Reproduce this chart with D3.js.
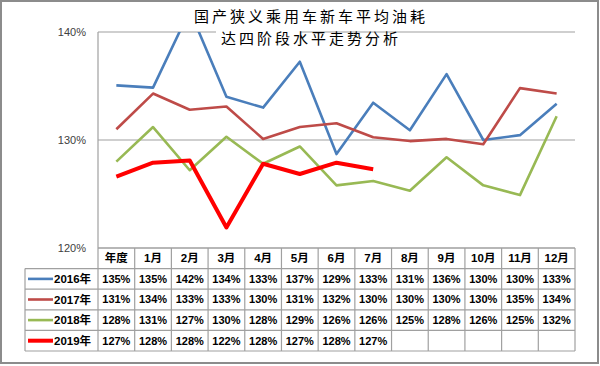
<!DOCTYPE html>
<html>
<head>
<meta charset="utf-8">
<script src="https://cdn.jsdelivr.net/npm/d3@7"></script>
<style>
  body { margin: 0; background: #fff; }
  #viz { width: 600px; height: 366px; }
</style>
</head>
<body>
<div id="viz"></div>
<script>
// Categories of the x axis (year average + months).
var categories = ["年度", "1月", "2月", "3月", "4月", "5月", "6月", "7月", "8月", "9月", "10月", "11月", "12月"];

// Series names (table row headers).
var seriesNames = ["2016年", "2017年", "2018年", "2019年"];

// Values (percent), one array per year.
var values2016 = [135.06, 134.85, 142.0, 134.0, 133.0, 137.25, 128.7, 133.45, 130.9, 136.1, 130.0, 130.45, 133.35];
var values2017 = [131.0, 134.3, 132.8, 133.1, 130.1, 131.2, 131.55, 130.25, 129.9, 130.1, 129.6, 134.8, 134.3];
var values2018 = [128.0, 131.2, 127.2, 130.3, 127.8, 129.4, 125.8, 126.2, 125.3, 128.4, 125.8, 124.9, 132.2];
var values2019 = [126.6, 127.9, 128.1, 121.9, 127.8, 126.85, 127.9, 127.3];

// Y axis ticks.
var yTicks = [120, 130, 140];

var titleLines = ["国产狭义乘用车新车平均油耗", "达四阶段水平走势分析"];

var allValues = [values2016, values2017, values2018, values2019];
var colors = ["#4a7ebb", "#be4b48", "#98b954", "#ff0000"];
var widths = [2.6, 2.6, 2.6, 4];

var W = 600, H = 366;
var plot = { left: 98, right: 575, top: 32, bottom: 248 };
var rowH = 20.6;
var headCol = 25;   // left edge of the row header column
var sansFont = "'Liberation Sans', 'Noto Sans CJK SC', sans-serif";

var svg = d3.select("#viz")
  .append("svg")
    .attr("width", W)
    .attr("height", H);

// outer frame of the picture
svg.append("rect")
  .attr("x", 1).attr("y", 1)
  .attr("width", W - 3).attr("height", H - 4)
  .attr("fill", "#fff")
  .attr("stroke", "#8c8c8c")
  .attr("stroke-width", 2);

// scales
var x = d3.scaleBand()
  .domain(categories)
  .range([plot.left, plot.right]);

var y = d3.scaleLinear()
  .domain([120, 140])
  .range([plot.bottom, plot.top]);

// gridlines (the 120% one is the table top)
svg.append("g")
  .selectAll("line")
  .data(yTicks)
  .join("line")
    .attr("x1", plot.left).attr("x2", plot.right)
    .attr("y1", function (d) { return y(d); })
    .attr("y2", function (d) { return y(d); })
    .attr("stroke", "#a0a0a0")
    .attr("stroke-width", 1.2);

// left axis line
svg.append("line")
  .attr("x1", plot.left).attr("x2", plot.left)
  .attr("y1", plot.top).attr("y2", plot.bottom)
  .attr("stroke", "#a0a0a0")
  .attr("stroke-width", 1.2);

// y tick labels
svg.append("g")
  .selectAll("text")
  .data(yTicks)
  .join("text")
    .attr("x", 86)
    .attr("y", function (d) { return y(d); })
    .attr("dy", "0.35em")
    .attr("text-anchor", "end")
    .attr("font-family", sansFont)
    .attr("font-size", 11)
    .attr("fill", "#404040")
    .text(function (d) { return d + "%"; });

// clip the lines to the plot area
svg.append("clipPath")
  .attr("id", "plotClip")
  .append("rect")
    .attr("x", plot.left).attr("y", plot.top)
    .attr("width", plot.right - plot.left)
    .attr("height", plot.bottom - plot.top);

var line = d3.line()
  .x(function (d, i) { return x(categories[i]) + x.bandwidth() / 2; })
  .y(function (d) { return y(d); });

svg.append("g")
  .attr("clip-path", "url(#plotClip)")
  .selectAll("path")
  .data(allValues)
  .join("path")
    .attr("d", function (d) { return line(d); })
    .attr("fill", "none")
    .attr("stroke", function (d, i) { return colors[i]; })
    .attr("stroke-width", function (d, i) { return widths[i]; })
    .attr("stroke-linejoin", "round");

// title (white box behind the second line hides part of the top gridline)
svg.append("rect")
  .attr("x", 216).attr("y", 28)
  .attr("width", 84).attr("height", 9)
  .attr("fill", "#fff");

svg.append("g")
  .selectAll("text")
  .data(titleLines)
  .join("text")
    .attr("x", 311)
    .attr("y", function (d, i) { return i === 0 ? 15.5 : 37.6; })
    .attr("dominant-baseline", "central")
    .attr("text-anchor", "middle")
    .attr("font-family", "'Noto Sans CJK SC', sans-serif")
    .attr("font-size", 15)
    .attr("letter-spacing", 3)
    .attr("fill", "#000")
    .text(function (d) { return d; });

// ---- data table ----
var grid = svg.append("g")
  .attr("stroke", "#a0a0a0")
  .attr("stroke-width", 1.2);

var tableBottom = plot.bottom + rowH * (seriesNames.length + 1);

// horizontal lines: header row spans categories only, data rows include row header column
d3.range(seriesNames.length + 2).forEach(function (r) {
  var yy = plot.bottom + r * rowH;
  grid.append("line")
    .attr("x1", r === 0 ? plot.left : headCol).attr("x2", plot.right)
    .attr("y1", yy).attr("y2", yy);
});

// vertical lines between categories
categories.forEach(function (c) {
  grid.append("line")
    .attr("x1", x(c)).attr("x2", x(c))
    .attr("y1", plot.bottom).attr("y2", tableBottom);
});
grid.append("line")
  .attr("x1", plot.right).attr("x2", plot.right)
  .attr("y1", plot.bottom).attr("y2", tableBottom);
grid.append("line")
  .attr("x1", headCol).attr("x2", headCol)
  .attr("y1", plot.bottom + rowH).attr("y2", tableBottom);

// header row
svg.append("g")
  .selectAll("text")
  .data(categories)
  .join("text")
    .attr("x", function (d) { return x(d) + x.bandwidth() / 2; })
    .attr("y", plot.bottom + rowH / 2)
    .attr("dy", "0.36em")
    .attr("text-anchor", "middle")
    .attr("font-family", sansFont)
    .attr("font-size", 11.5)
    .attr("font-weight", "bold")
    .text(function (d) { return d; });

// data rows
var rows = svg.append("g")
  .selectAll("g")
  .data(allValues)
  .join("g")
    .attr("transform", function (d, i) { return "translate(0," + (plot.bottom + rowH * (i + 1.5)) + ")"; });

// legend key line
rows.append("line")
  .attr("x1", 28).attr("x2", 53)
  .attr("stroke", function (d, i) { return colors[i]; })
  .attr("stroke-width", function (d, i) { return widths[i]; });

rows.append("text")
  .attr("x", 54)
  .attr("dy", "0.36em")
  .attr("font-family", sansFont)
  .attr("font-size", 11.5)
  .attr("font-weight", "bold")
  .text(function (d, i) { return seriesNames[i]; });

rows.selectAll("text.v")
  .data(function (d) { return d; })
  .join("text")
    .attr("class", "v")
    .attr("x", function (d, i) { return x(categories[i]) + x.bandwidth() / 2; })
    .attr("dy", "0.36em")
    .attr("text-anchor", "middle")
    .attr("font-family", sansFont)
    .attr("font-size", 11)
    .attr("font-weight", "bold")
    .text(function (d) { return Math.round(d) + "%"; });
</script>
</body>
</html>
